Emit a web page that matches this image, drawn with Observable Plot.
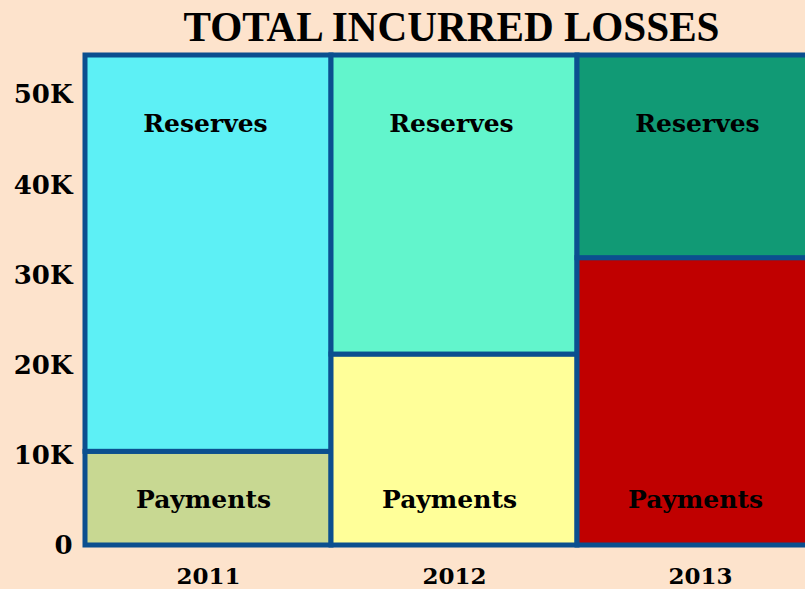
<!DOCTYPE html>
<html><head><meta charset="utf-8">
<script src="https://cdn.jsdelivr.net/npm/d3@7"></script>
<script src="https://cdn.jsdelivr.net/npm/@observablehq/plot@0.6"></script>
<style>
html,body{margin:0;padding:0;background:#fde3cc;overflow:hidden;width:805px;height:589px;}
#title{font-family:"Liberation Serif",serif;font-weight:bold;font-size:42px;color:#000;height:50px;line-height:54px;padding-left:84px;width:734px;text-align:center;white-space:nowrap;}
#title span{display:inline-block;transform:scaleX(0.98);transform-origin:center;}
#chart svg{display:block;overflow:visible;max-width:none !important;}
</style></head>
<body>
<div id="title"><span>TOTAL INCURRED LOSSES</span></div>
<div id="chart"></div>
<script>
const years = ["2011", "2012", "2013"];
const payments = [10400, 21200, 31900];
const reserves = [44000, 33200, 22500];
const paymentColors = ["#c8d892", "#ffff99", "#c00000"];
const reserveColors = ["#5df0f5", "#62f5cc", "#119a75"];
const yTicks = [0, 10000, 20000, 30000, 40000, 50000];

const rows = [];
years.forEach((y, i) => {
  rows.push({year: y, type: "Payments", value: payments[i], color: paymentColors[i]});
  rows.push({year: y, type: "Reserves", value: reserves[i], color: reserveColors[i]});
});
const totals = years.map((y, i) => ({year: y, total: payments[i] + reserves[i]}));

const chart = Plot.plot({
  width: 824,
  height: 539,
  marginLeft: 84,
  marginRight: 0,
  marginTop: 5,
  marginBottom: 44,
  style: {background: "transparent", fontFamily: "DejaVu Serif", fontWeight: "bold", color: "#000", overflow: "visible", maxWidth: "none"},
  x: {domain: years, padding: 0, label: null},
  y: {domain: [0, 54400], label: null},
  marks: [
    Plot.barY(rows, {x: "year", y: "value", fill: "color", stroke: "#0b4f8f", strokeWidth: 5, order: ["Payments", "Reserves"], z: "type"}),
    Plot.text(totals, {x: "year", y: "total", text: () => "Reserves", dy: 68, dx: -3, fontSize: 25, fontWeight: "bold", fill: "#000"}),
    Plot.text(totals, {x: "year", y: () => 0, text: () => "Payments", dy: -46, dx: -5, fontSize: 25, fontWeight: "bold", fill: "#000"}),
    Plot.axisY({ticks: yTicks, tickSize: 0, tickPadding: 12, tickFormat: d => d === 0 ? "0" : (d / 1000) + "K", fontSize: 26, label: null}),
    Plot.axisX({tickSize: 0, tickPadding: 22, fontSize: 23, label: null})
  ]
});
document.getElementById("chart").appendChild(chart);
</script>
</body></html>
